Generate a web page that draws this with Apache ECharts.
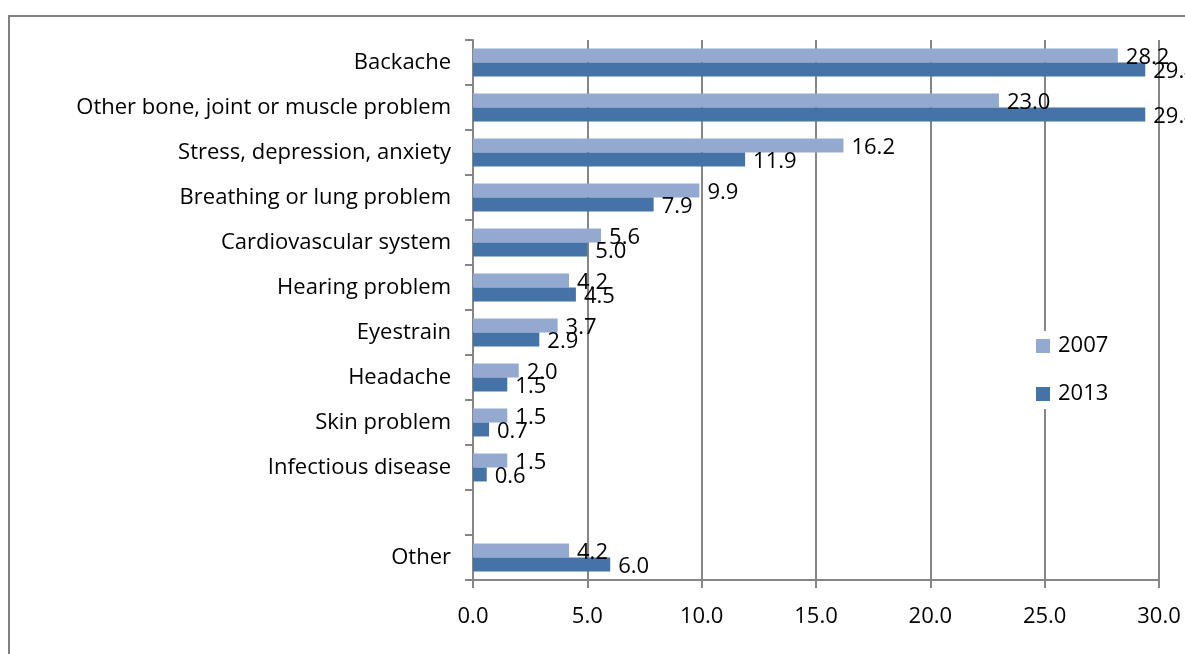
<!DOCTYPE html>
<html>
<head>
<meta charset="utf-8">
<script src="https://cdn.jsdelivr.net/npm/echarts@6/dist/echarts.min.js"></script>
<style>
html,body{margin:0;padding:0;background:#fff;}
#chart{width:1185px;height:654px;}
</style>
</head>
<body>
<div id="chart"></div>
<script>
const categories = ['Backache','Other bone, joint or muscle problem','Stress, depression, anxiety','Breathing or lung problem','Cardiovascular system','Hearing problem','Eyestrain','Headache','Skin problem','Infectious disease','','Other'];
const values2007 = [28.2, 23.0, 16.2, 9.9, 5.6, 4.2, 3.7, 2.0, 1.5, 1.5, null, 4.2];
const values2013 = [29.4, 29.4, 11.9, 7.9, 5.0, 4.5, 2.9, 1.5, 0.7, 0.6, null, 6.0];
const seriesNames = ['2007','2013'];
const xTicks = {min: 0, max: 30, interval: 5};

const FONT = 'Open Sans';
const FS = 22;
const chart = echarts.init(document.getElementById('chart'), null, {renderer:'canvas'});
const labelCfg = {
  show: true, position: 'right', distance: 8, offset: [0, 2],
  color: '#000', fontFamily: FONT, fontSize: FS,
  formatter: p => p.value == null ? '' : Number(p.value).toFixed(1)
};
chart.setOption({
  animation: false,
  backgroundColor: '#fff',
  textStyle: {fontFamily: FONT},
  graphic: [{
    type: 'rect', silent: true, z: -10,
    shape: {x: 9, y: 16, width: 1300, height: 800},
    style: {fill: '#fff', stroke: '#808080', lineWidth: 2}
  }],
  grid: {left: 473, right: 26, top: 40, bottom: 74, containLabel: false},
  legend: {
    data: seriesNames, orient: 'vertical', left: 1034, top: 331,
    itemWidth: 14, itemHeight: 14, itemGap: 26, icon: 'rect',
    backgroundColor: '#fff', padding: [4, 6, 4, 2],
    textStyle: {fontFamily: FONT, fontSize: FS, color: '#000', padding: [0, 0, 0, 3]}
  },
  xAxis: {
    type: 'value', min: xTicks.min, max: xTicks.max, interval: xTicks.interval,
    axisLine: {show: true, lineStyle: {color: '#868686', width: 2}},
    axisTick: {show: true, length: 8, lineStyle: {color: '#868686', width: 2}},
    splitLine: {show: true, lineStyle: {color: '#868686', width: 2}},
    axisLabel: {color: '#000', fontFamily: FONT, fontSize: FS, margin: 26, formatter: v => v.toFixed(1)}
  },
  yAxis: {
    type: 'category', data: categories, inverse: true,
    axisLine: {show: true, onZero: false, lineStyle: {color: '#868686', width: 2}},
    axisTick: {show: true, length: 8, lineStyle: {color: '#868686', width: 2}},
    axisLabel: {color: '#000', fontFamily: FONT, fontSize: FS, margin: 22}
  },
  series: [
    {name: seriesNames[0], type: 'bar', data: values2007, barGap: '0%', barCategoryGap: '38%',
     itemStyle: {color: '#93A9D0'}, label: labelCfg},
    {name: seriesNames[1], type: 'bar', data: values2013, barGap: '0%', barCategoryGap: '38%',
     itemStyle: {color: '#4573A7'}, label: labelCfg}
  ]
});
</script>
</body>
</html>
